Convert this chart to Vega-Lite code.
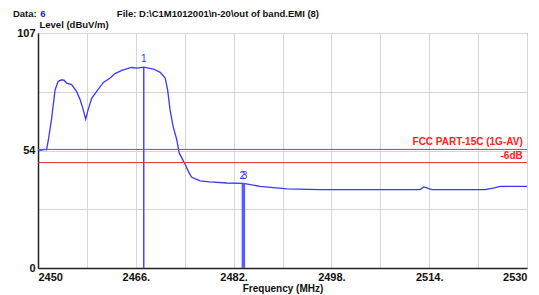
{
  "$schema": "https://vega.github.io/schema/vega-lite/v6.json",
  "width": 489,
  "height": 235,
  "autosize": {"type": "none"},
  "padding": {"left": 38, "top": 33, "right": 12, "bottom": 27},
  "background": "white",
  "config": {
    "font": "Liberation Sans",
    "view": {"stroke": "#444", "strokeWidth": 1},
    "axis": {
      "grid": true,
      "gridColor": "#d6d6d6",
      "gridWidth": 1,
      "ticks": false,
      "domain": true,
      "domainColor": "#222",
      "domainWidth": 1.5,
      "labelFont": "Liberation Sans",
      "labelFontWeight": "bold",
      "labelFontSize": 11,
      "labelColor": "#111",
      "titleFont": "Liberation Sans",
      "titleFontWeight": "bold",
      "titleColor": "#111"
    }
  },
  "datasets": {
    "trace": [
      {"f": 2450.0, "v": 53.9}, {"f": 2450.5, "v": 53.6}, {"f": 2451.0, "v": 54.0}, {"f": 2451.4, "v": 53.8},
      {"f": 2451.7, "v": 58.4}, {"f": 2452.2, "v": 67.5}, {"f": 2452.8, "v": 81.2}, {"f": 2453.3, "v": 85.0},
      {"f": 2453.9, "v": 85.7}, {"f": 2454.3, "v": 85.4}, {"f": 2454.7, "v": 84.2}, {"f": 2455.5, "v": 83.5},
      {"f": 2456.3, "v": 80.4}, {"f": 2456.9, "v": 76.6}, {"f": 2457.4, "v": 72.1}, {"f": 2457.8, "v": 67.8},
      {"f": 2458.2, "v": 72.1}, {"f": 2458.8, "v": 77.4}, {"f": 2459.6, "v": 80.4}, {"f": 2460.7, "v": 84.5},
      {"f": 2461.8, "v": 86.5}, {"f": 2462.6, "v": 88.5}, {"f": 2463.7, "v": 90.0}, {"f": 2465.3, "v": 91.3},
      {"f": 2466.2, "v": 91.0}, {"f": 2467.3, "v": 91.5}, {"f": 2468.9, "v": 90.6}, {"f": 2470.0, "v": 89.1},
      {"f": 2470.8, "v": 86.5}, {"f": 2471.2, "v": 81.2}, {"f": 2471.6, "v": 72.1}, {"f": 2472.1, "v": 64.5},
      {"f": 2472.7, "v": 58.4}, {"f": 2473.1, "v": 52.4}, {"f": 2474.1, "v": 47.0}, {"f": 2474.6, "v": 44.0},
      {"f": 2475.1, "v": 41.4}, {"f": 2476.5, "v": 39.7}, {"f": 2478.1, "v": 39.2}, {"f": 2480.9, "v": 38.7},
      {"f": 2483.6, "v": 38.5}, {"f": 2486.3, "v": 37.2}, {"f": 2490.7, "v": 36.0}, {"f": 2496.1, "v": 35.7},
      {"f": 2512.5, "v": 35.7}, {"f": 2513.1, "v": 36.9}, {"f": 2513.6, "v": 36.5}, {"f": 2514.4, "v": 35.7},
      {"f": 2523.1, "v": 35.7}, {"f": 2524.5, "v": 36.4}, {"f": 2525.6, "v": 37.2}, {"f": 2530.0, "v": 37.2}
    ],
    "limits": [
      {"v": 54, "name": "FCC PART-15C (1G-AV)", "lf": 2529.3, "lv": 57.3},
      {"v": 48, "name": "-6dB", "lf": 2529.3, "lv": 51.0}
    ],
    "markers": [
      {"id": "1", "f": 2467.3, "v0": 0, "v": 91.5, "lf": 2467.3, "lv": 95.3, "w": "thin"},
      {"id": "2", "f": 2483.6, "v0": 0, "v": 38.5, "lf": 2483.4, "lv": 41.7, "w": "thick"},
      {"id": "3", "f": 2483.6, "v0": 0, "v": 38.5, "lf": 2483.8, "lv": 41.7, "w": "thick"}
    ],
    "header": [
      {"t": "Data:", "f": 2445.9, "v": 115.6, "kind": "black"},
      {"t": "6", "f": 2450.35, "v": 115.6, "kind": "blue"},
      {"t": "File: D:\\C1M1012001\\n-20\\out of band.EMI  (8)", "f": 2462.9, "v": 115.6, "kind": "black"}
    ]
  },
  "layer": [
    {
      "data": {"name": "trace"},
      "mark": {"type": "line", "color": "#3838ff", "strokeWidth": 1.3},
      "encoding": {
        "x": {
          "field": "f", "type": "quantitative",
          "scale": {"domain": [2450, 2530], "nice": false, "zero": false},
          "axis": {
            "values": [2450, 2458, 2466, 2474, 2482, 2490, 2498, 2506, 2514, 2522, 2530],
            "labelExpr": "datum.value == 2450 || datum.value == 2530 ? datum.value + '' : ((datum.value - 2450) % 16 == 0 ? datum.value + '.' : '')",
            "labelFlush": true,
            "labelPadding": 3,
            "title": "Frequency (MHz)",
            "titleFontSize": 10,
            "titlePadding": 1
          }
        },
        "y": {
          "field": "v", "type": "quantitative",
          "scale": {"domain": [0, 107], "nice": false, "zero": false},
          "axis": {
            "values": [0, 13.375, 26.75, 40.125, 53.5, 66.875, 80.25, 93.625, 107],
            "labelExpr": "datum.value == 0 ? '0' : (datum.value == 107 ? '107' : (datum.value == 53.5 ? '54' : ''))",
            "labelPadding": 3,
            "title": "Level (dBuV/m)",
            "titleAngle": 0,
            "titleAlign": "left",
            "titleBaseline": "alphabetic",
            "titleX": 1,
            "titleY": -6,
            "titleFontSize": 9.5
          }
        }
      }
    },
    {
      "data": {"name": "limits"},
      "mark": {"type": "rule", "color": "#e53030", "strokeWidth": 1},
      "encoding": {
        "y": {"field": "v", "type": "quantitative", "scale": {"domain": [0, 107], "nice": false, "zero": false}}
      }
    },
    {
      "data": {"name": "limits"},
      "mark": {"type": "text", "color": "#ff2020", "align": "right", "baseline": "middle", "fontWeight": "bold", "fontSize": 10},
      "encoding": {
        "x": {"field": "lf", "type": "quantitative", "scale": {"domain": [2450, 2530], "nice": false, "zero": false}},
        "y": {"field": "lv", "type": "quantitative", "scale": {"domain": [0, 107], "nice": false, "zero": false}},
        "text": {"field": "name"}
      }
    },
    {
      "data": {"name": "markers"},
      "transform": [{"filter": "datum.w == 'thin'"}],
      "mark": {"type": "rule", "color": "#4848ff", "strokeWidth": 1.5},
      "encoding": {
        "x": {"field": "f", "type": "quantitative", "scale": {"domain": [2450, 2530], "nice": false, "zero": false}},
        "y": {"field": "v0", "type": "quantitative", "scale": {"domain": [0, 107], "nice": false, "zero": false}},
        "y2": {"field": "v"}
      }
    },
    {
      "data": {"name": "markers"},
      "transform": [{"filter": "datum.id == '2'"}],
      "mark": {"type": "rule", "color": "#5a5aff", "strokeWidth": 3.5},
      "encoding": {
        "x": {"field": "f", "type": "quantitative", "scale": {"domain": [2450, 2530], "nice": false, "zero": false}},
        "y": {"field": "v0", "type": "quantitative", "scale": {"domain": [0, 107], "nice": false, "zero": false}},
        "y2": {"field": "v"}
      }
    },
    {
      "data": {"name": "markers"},
      "mark": {"type": "text", "color": "#3030ff", "align": "center", "baseline": "middle", "fontSize": 10},
      "encoding": {
        "x": {"field": "lf", "type": "quantitative", "scale": {"domain": [2450, 2530], "nice": false, "zero": false}},
        "y": {"field": "lv", "type": "quantitative", "scale": {"domain": [0, 107], "nice": false, "zero": false}},
        "text": {"field": "id"}
      }
    },
    {
      "data": {"name": "header"},
      "transform": [{"filter": "datum.kind == 'black'"}],
      "mark": {"type": "text", "color": "#111", "align": "left", "baseline": "middle", "fontWeight": "bold", "fontSize": 9.5},
      "encoding": {
        "x": {"field": "f", "type": "quantitative", "scale": {"domain": [2450, 2530], "nice": false, "zero": false}},
        "y": {"field": "v", "type": "quantitative", "scale": {"domain": [0, 107], "nice": false, "zero": false}},
        "text": {"field": "t"}
      }
    },
    {
      "data": {"name": "header"},
      "transform": [{"filter": "datum.kind == 'blue'"}],
      "mark": {"type": "text", "color": "#2020ff", "align": "left", "baseline": "middle", "fontWeight": "bold", "fontSize": 9.5},
      "encoding": {
        "x": {"field": "f", "type": "quantitative", "scale": {"domain": [2450, 2530], "nice": false, "zero": false}},
        "y": {"field": "v", "type": "quantitative", "scale": {"domain": [0, 107], "nice": false, "zero": false}},
        "text": {"field": "t"}
      }
    }
  ]
}
